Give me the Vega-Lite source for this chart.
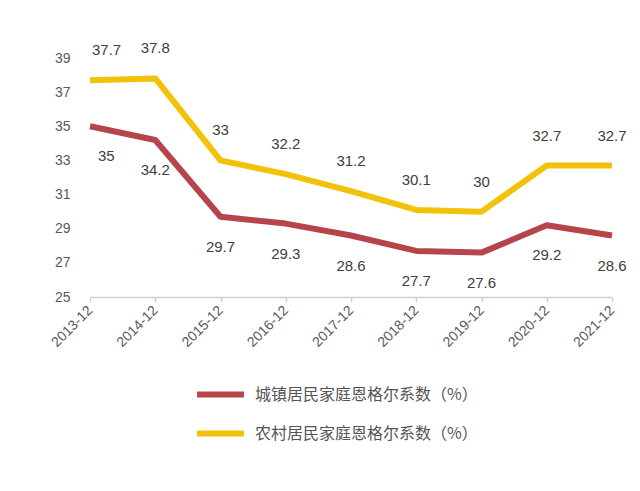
{
  "$schema": "https://vega.github.io/schema/vega-lite/v6.json",
  "autosize": "none",
  "width": 522,
  "height": 239,
  "padding": {"left": 90, "top": 58, "right": 28, "bottom": 194},
  "background": "white",
  "config": {
    "view": {"stroke": null},
    "font": "Noto Sans CJK SC"
  },
  "data": {
    "values": [
      {"year": "2013-12", "type": "城镇居民家庭恩格尔系数（%）", "value": 35},
      {"year": "2014-12", "type": "城镇居民家庭恩格尔系数（%）", "value": 34.2},
      {"year": "2015-12", "type": "城镇居民家庭恩格尔系数（%）", "value": 29.7},
      {"year": "2016-12", "type": "城镇居民家庭恩格尔系数（%）", "value": 29.3},
      {"year": "2017-12", "type": "城镇居民家庭恩格尔系数（%）", "value": 28.6},
      {"year": "2018-12", "type": "城镇居民家庭恩格尔系数（%）", "value": 27.7},
      {"year": "2019-12", "type": "城镇居民家庭恩格尔系数（%）", "value": 27.6},
      {"year": "2020-12", "type": "城镇居民家庭恩格尔系数（%）", "value": 29.2},
      {"year": "2021-12", "type": "城镇居民家庭恩格尔系数（%）", "value": 28.6},
      {"year": "2013-12", "type": "农村居民家庭恩格尔系数（%）", "value": 37.7},
      {"year": "2014-12", "type": "农村居民家庭恩格尔系数（%）", "value": 37.8},
      {"year": "2015-12", "type": "农村居民家庭恩格尔系数（%）", "value": 33},
      {"year": "2016-12", "type": "农村居民家庭恩格尔系数（%）", "value": 32.2},
      {"year": "2017-12", "type": "农村居民家庭恩格尔系数（%）", "value": 31.2},
      {"year": "2018-12", "type": "农村居民家庭恩格尔系数（%）", "value": 30.1},
      {"year": "2019-12", "type": "农村居民家庭恩格尔系数（%）", "value": 30},
      {"year": "2020-12", "type": "农村居民家庭恩格尔系数（%）", "value": 32.7},
      {"year": "2021-12", "type": "农村居民家庭恩格尔系数（%）", "value": 32.7}
    ]
  },
  "encoding": {
    "x": {
      "field": "year",
      "type": "ordinal",
      "scale": {"type": "point", "padding": 0},
      "axis": {
        "title": null,
        "labelAngle": -45,
        "labelAlign": "right",
        "labelBaseline": "middle",
        "labelFontSize": 14,
        "labelColor": "#595959",
        "labelFont": "Liberation Sans",
        "labelPadding": 6,
        "domainColor": "#d0d0d0",
        "domainWidth": 1.5,
        "tickColor": "#d0d0d0",
        "tickSize": 5,
        "tickWidth": 1.5,
        "grid": false
      }
    },
    "y": {
      "field": "value",
      "type": "quantitative",
      "scale": {"domain": [25, 39], "nice": false, "zero": false},
      "axis": {
        "title": null,
        "values": [25, 27, 29, 31, 33, 35, 37, 39],
        "domain": false,
        "ticks": false,
        "grid": false,
        "labelFontSize": 14,
        "labelColor": "#595959",
        "labelFont": "Liberation Sans",
        "labelPadding": 20
      }
    }
  },
  "layer": [
    {
      "mark": {"type": "line", "strokeWidth": 6, "strokeCap": "butt", "strokeJoin": "round"},
      "encoding": {
        "color": {
          "field": "type",
          "type": "nominal",
          "scale": {
            "domain": ["城镇居民家庭恩格尔系数（%）", "农村居民家庭恩格尔系数（%）"],
            "range": ["#B5454B", "#F2C20A"]
          },
          "legend": {
            "title": null,
            "orient": "none",
            "legendX": 104,
            "legendY": 310,
            "direction": "vertical",
            "symbolType": "stroke",
            "symbolStrokeWidth": 6,
            "symbolSize": 2200,
            "labelFontSize": 16,
            "labelColor": "#555555",
            "labelFont": "Noto Sans CJK SC",
            "labelOffset": 8,
            "labelLimit": 0,
            "rowPadding": -10
          }
        }
      }
    },
    {
      "transform": [{"filter": "datum.type === '城镇居民家庭恩格尔系数（%）' && datum.year !== '2013-12'"}],
      "mark": {"type": "text", "dy": 30, "fontSize": 15, "color": "#404040", "font": "Liberation Sans"},
      "encoding": {"text": {"field": "value", "type": "quantitative"}}
    },
    {
      "transform": [{"filter": "datum.type === '农村居民家庭恩格尔系数（%）' && datum.year !== '2013-12'"}],
      "mark": {"type": "text", "dy": -30, "fontSize": 15, "color": "#404040", "font": "Liberation Sans"},
      "encoding": {"text": {"field": "value", "type": "quantitative"}}
    },
    {
      "transform": [{"filter": "datum.type === '城镇居民家庭恩格尔系数（%）' && datum.year === '2013-12'"}],
      "mark": {"type": "text", "dy": 30, "dx": 8, "align": "left", "fontSize": 15, "color": "#404040", "font": "Liberation Sans"},
      "encoding": {"text": {"field": "value", "type": "quantitative"}}
    },
    {
      "transform": [{"filter": "datum.type === '农村居民家庭恩格尔系数（%）' && datum.year === '2013-12'"}],
      "mark": {"type": "text", "dy": -30, "dx": 2, "align": "left", "fontSize": 15, "color": "#404040", "font": "Liberation Sans"},
      "encoding": {"text": {"field": "value", "type": "quantitative"}}
    }
  ]
}
